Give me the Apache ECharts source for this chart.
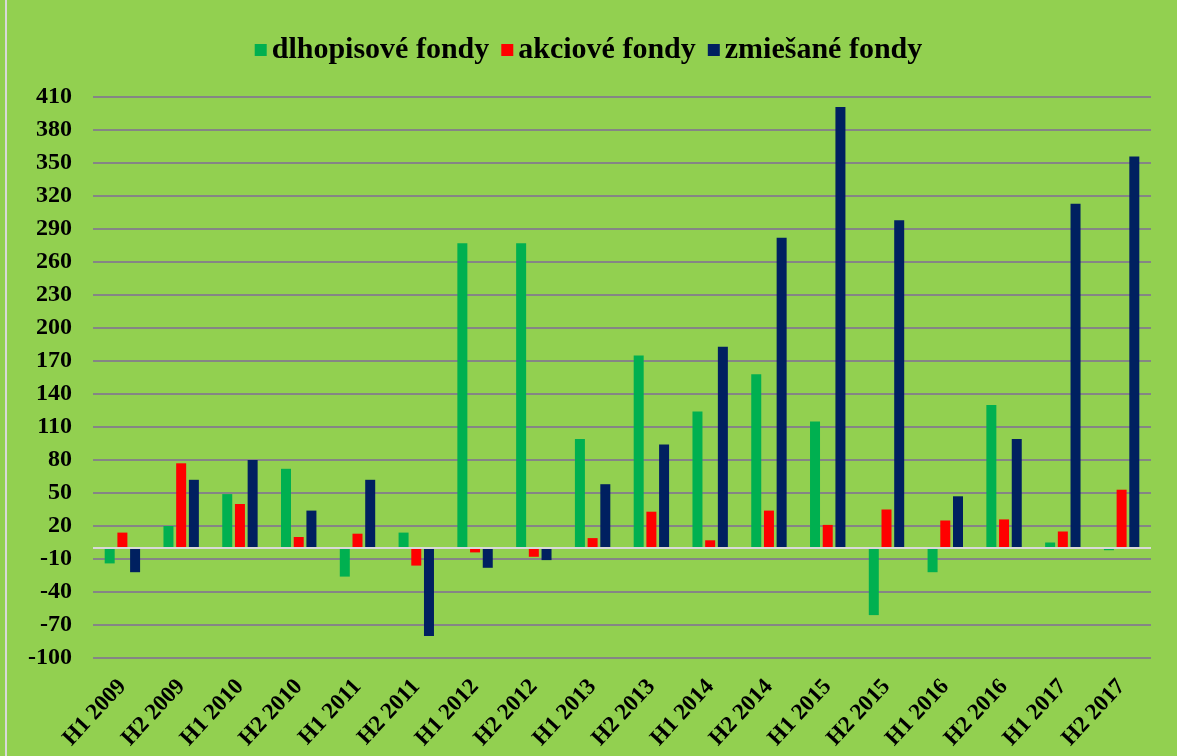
<!DOCTYPE html>
<html>
<head>
<meta charset="utf-8">
<script src="https://cdn.jsdelivr.net/npm/echarts@6/dist/echarts.min.js"></script>
<style>
  html, body { margin: 0; padding: 0; background: #92d050; }
  #chart { width: 1177px; height: 756px; }
</style>
</head>
<body>
<div id="chart"></div>
<script>
// polroky
var categories = ["H1 2009", "H2 2009", "H1 2010", "H2 2010", "H1 2011", "H2 2011",
  "H1 2012", "H2 2012", "H1 2013", "H2 2013", "H1 2014", "H2 2014",
  "H1 2015", "H2 2015", "H1 2016", "H2 2016", "H1 2017", "H2 2017"];
var dlhopisove = [-14, 20, 49, 72, -26, 14, 277, 277, 99, 175, 124, 158, 115, -61, -22, 130, 5, -2];
var akciove = [14, 77, 40, 10, 13, -16, -4, -8, 9, 33, 7, 34, 21, 35, 25, 26, 15, 53];
var zmiesane = [-22, 62, 80, 34, 62, -80, -18, -11, 58, 94, 183, 282, 401, 298, 47, 99, 313, 356];

var serif = "'Liberation Serif', 'DejaVu Serif', serif";

var chart = echarts.init(document.getElementById("chart"));

function barSerie(name, data, color) {
  return {
    name: name,
    type: "bar",
    data: data,
    barWidth: 10,
    barGap: "27%",
    itemStyle: { color: color },
    animation: false
  };
}

var series = [
  barSerie("dlhopisové fondy", dlhopisove, "#00b050"),
  barSerie("akciové fondy", akciove, "#ff0000"),
  barSerie("zmiešané fondy", zmiesane, "#002060")
];
// nulová čiara
series[2].markLine = {
  silent: true,
  symbol: "none",
  label: { show: false },
  lineStyle: { color: "#d9d9d9", width: 2, type: "solid" },
  data: [{ yAxis: 0 }]
};

var option = {
  backgroundColor: "#92d050",
  animation: false,
  graphic: [{
    type: "rect",
    shape: { x: 6, y: -2, width: 1180, height: 760 },
    style: { fill: null, stroke: "#d9d9d9", lineWidth: 2 }
  }],
  legend: {
    top: 30,
    left: "center",
    itemWidth: 12,
    itemHeight: 12,
    itemGap: 12,
    icon: "rect",
    textStyle: { fontFamily: serif, fontWeight: "bold", fontSize: 30, color: "#000" },
    data: ["dlhopisové fondy", "akciové fondy", "zmiešané fondy"]
  },
  grid: { left: 93, right: 26, top: 97, bottom: 98 },
  xAxis: {
    type: "category",
    data: categories,
    axisLine: { show: false, onZero: false },
    axisTick: { show: false },
    axisLabel: {
      rotate: 47,
      interval: 0,
      margin: 25,
      fontFamily: serif,
      fontWeight: "bold",
      fontSize: 23,
      color: "#000"
    }
  },
  yAxis: {
    type: "value",
    min: -100,
    max: 410,
    interval: 30,
    axisLine: { show: false },
    axisTick: { show: false },
    axisLabel: {
      margin: 21,
      fontFamily: serif,
      fontWeight: "bold",
      fontSize: 24,
      color: "#000"
    },
    splitLine: { lineStyle: { color: "#858585", width: 2 } }
  },
  series: series
};
chart.setOption(option);
</script>
</body>
</html>
